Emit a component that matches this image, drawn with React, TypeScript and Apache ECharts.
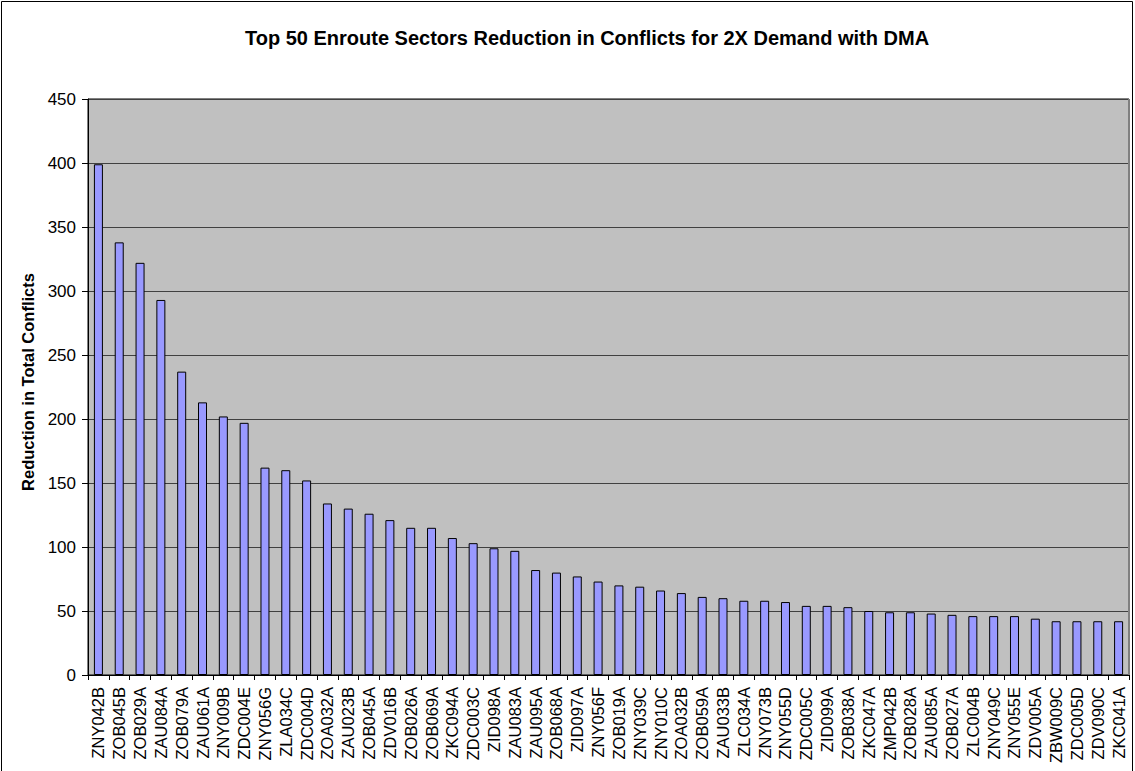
import React, { useEffect, useRef } from "react";
import * as echarts from "echarts";

const categories = [
  "ZNY042B", "ZOB045B", "ZOB029A", "ZAU084A", "ZOB079A", "ZAU061A", "ZNY009B", "ZDC004E", "ZNY056G", "ZLA034C",
  "ZDC004D", "ZOA032A", "ZAU023B", "ZOB045A", "ZDV016B", "ZOB026A", "ZOB069A", "ZKC094A", "ZDC003C", "ZID098A",
  "ZAU083A", "ZAU095A", "ZOB068A", "ZID097A", "ZNY056F", "ZOB019A", "ZNY039C", "ZNY010C", "ZOA032B", "ZOB059A",
  "ZAU033B", "ZLC034A", "ZNY073B", "ZNY055D", "ZDC005C", "ZID099A", "ZOB038A", "ZKC047A", "ZMP042B", "ZOB028A",
  "ZAU085A", "ZOB027A", "ZLC004B", "ZNY049C", "ZNY055E", "ZDV005A", "ZBW009C", "ZDC005D", "ZDV090C", "ZKC041A",
];

const reductions = [
  399, 338, 322, 293, 237, 213, 202, 197, 162, 160,
  152, 134, 130, 126, 121, 115, 115, 107, 103, 99,
  97, 82, 80, 77, 73, 70, 69, 66, 64, 61,
  60, 58, 58, 57, 54, 54, 53, 50, 49, 49,
  48, 47, 46, 46, 46, 44, 42, 42, 42, 42,
];

const titleText = "Top 50 Enroute Sectors Reduction in Conflicts for 2X Demand with DMA";
const yAxisName = "Reduction in Total Conflicts";

export default function App() {
  const ref = useRef<HTMLDivElement>(null);
  useEffect(() => {
    if (!ref.current) return;
    const chart = echarts.init(ref.current, null, { renderer: "svg" });
    const font = "Arial, 'Liberation Sans', sans-serif";
    chart.setOption({
      animation: false,
      backgroundColor: "#ffffff",
      textStyle: { fontFamily: font },
      title: {
        text: titleText,
        left: 582,
        textAlign: "center",
        top: 23,
        textStyle: { fontSize: 20, fontWeight: "bold", color: "#000", fontFamily: font },
      },
      graphic: [
        {
          type: "rect",
          shape: { x: 1.5, y: 1.5, width: 1131, height: 820 },
          style: { fill: "none", stroke: "#000", lineWidth: 1 },
          silent: true,
        },
        {
          type: "line",
          shape: { x1: 1129, y1: 99, x2: 1129, y2: 675 },
          style: { stroke: "#808080", lineWidth: 2 },
          silent: true,
          z: 10,
        },
      ],
      grid: {
        left: 88,
        top: 99,
        width: 1041,
        height: 576,
        show: true,
        backgroundColor: "#C0C0C0",
        borderColor: "#000",
        borderWidth: 1,
      },
      xAxis: {
        type: "category",
        data: categories,
        boundaryGap: true,
        axisLine: { show: true, lineStyle: { color: "#000", width: 1 } },
        axisTick: { show: true, alignWithLabel: false, length: 5, lineStyle: { color: "#000" }, interval: 0 },
        axisLabel: { interval: 0, rotate: 90, fontSize: 16.5, color: "#000", margin: 12, fontFamily: font },
        splitLine: { show: false },
      },
      yAxis: {
        type: "value",
        min: 0,
        max: 450,
        interval: 50,
        name: yAxisName,
        nameLocation: "middle",
        nameGap: 50,
        nameRotate: 90,
        nameTextStyle: { fontSize: 16.5, fontWeight: "bold", color: "#000", fontFamily: font, padding: [0, 0, 0, 10] },
        axisLine: { show: true, lineStyle: { color: "#000", width: 1 } },
        axisTick: { show: true, length: 6, lineStyle: { color: "#000" } },
        axisLabel: { fontSize: 17, color: "#000", margin: 12, fontFamily: font },
        splitLine: { show: true, lineStyle: { color: "#404040", width: 1 } },
      },
      series: [
        {
          type: "bar",
          data: reductions,
          barWidth: 9,
          itemStyle: { color: "#9999FF", borderColor: "#000", borderWidth: 1 },
        },
      ],
    });
    return () => chart.dispose();
  }, []);
  return (
    <div
      ref={ref}
      style={{ position: "fixed", left: 0, top: 0, width: 1135, height: 771 }}
    />
  );
}
